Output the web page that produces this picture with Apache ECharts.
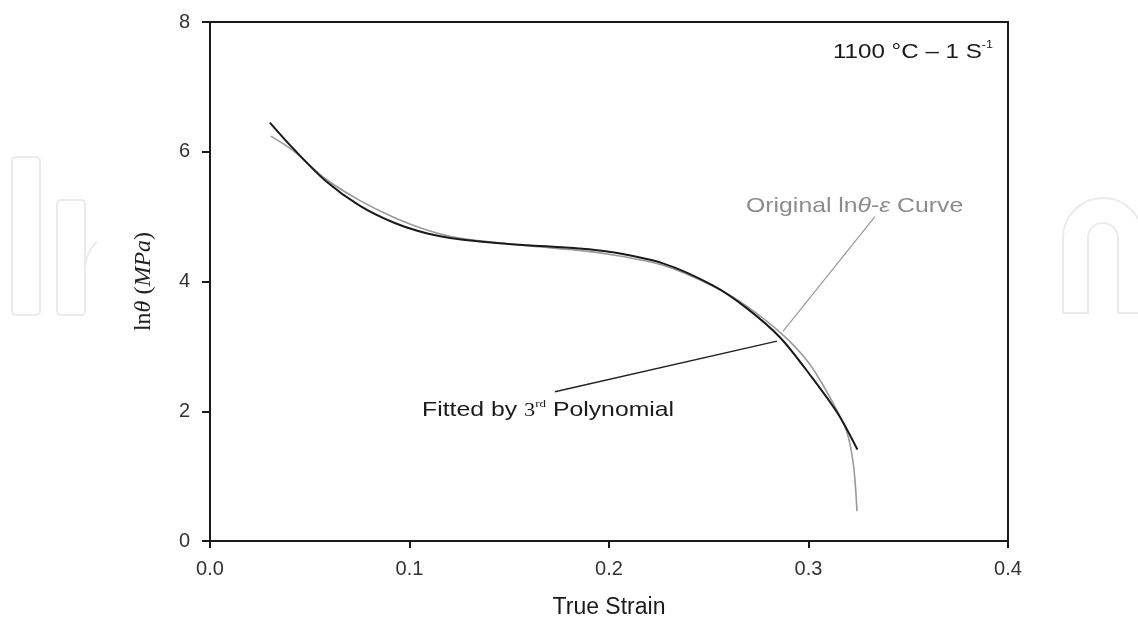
<!DOCTYPE html>
<html>
<head>
<meta charset="utf-8">
<script src="https://cdn.jsdelivr.net/npm/echarts@6/dist/echarts.min.js"></script>
<style>
  html, body { margin: 0; padding: 0; background: #fff; }
  #chart { width: 1138px; height: 624px; }
</style>
</head>
<body>
<div id="chart"></div>
<script>
// black curve: fitted by 3rd polynomial
var fittedStrain = [0.030, 0.042, 0.058, 0.075, 0.092, 0.109, 0.125, 0.145, 0.159, 0.185, 0.200, 0.227, 0.252, 0.269, 0.286, 0.302, 0.315, 0.3245];
var fittedLnTheta = [6.45, 6.04, 5.55, 5.17, 4.91, 4.74, 4.65, 4.59, 4.56, 4.51, 4.46, 4.28, 3.94, 3.59, 3.13, 2.51, 1.95, 1.41];
// grey curve: original ln(theta)-strain
var originalStrain = [0.0305, 0.042, 0.058, 0.075, 0.092, 0.109, 0.125, 0.159, 0.185, 0.200, 0.227, 0.252, 0.269, 0.287, 0.300, 0.311, 0.319, 0.3225, 0.3243];
var originalLnTheta = [6.24, 6.01, 5.58, 5.25, 4.99, 4.79, 4.67, 4.55, 4.48, 4.42, 4.25, 3.93, 3.62, 3.18, 2.75, 2.20, 1.70, 1.18, 0.46];

var xTicks = [0, 0.1, 0.2, 0.3, 0.4];
var yTicks = [0, 2, 4, 6, 8];

// annotation leader lines, in data units
var fittedPointer = [[0.1729, 2.30], [0.2842, 3.08]];
var originalPointer = [[0.3333, 5.00], [0.2872, 3.23]];
// annotation anchors, in data units
var fittedLabelAt = [0.1063, 2.01];
var originalLabelAt = [0.2687, 5.16];
var conditionLabelAt = [0.3925, 7.54];

function zip(xs, ys) {
  var out = [];
  for (var i = 0; i < xs.length; i++) out.push([xs[i], ys[i]]);
  return out;
}

var chart = echarts.init(document.getElementById('chart'));
var sans = 'Liberation Sans, Arial, sans-serif';
var serif = 'Liberation Serif, Times New Roman, serif';

var option = {
  animation: false,
  backgroundColor: '#fff',
  grid: {
    left: 210, right: 130, top: 22, bottom: 80,
    show: true, borderColor: '#1a1a1a', borderWidth: 2
  },
  xAxis: {
    type: 'value',
    min: xTicks[0], max: xTicks[xTicks.length - 1], interval: 0.1,
    name: 'True Strain',
    nameLocation: 'middle',
    nameGap: 55,
    nameTextStyle: { fontFamily: sans, fontSize: 23, color: '#1a1a1a' },
    axisLine: { lineStyle: { color: '#1a1a1a', width: 2 } },
    axisTick: { show: true, length: 7, lineStyle: { color: '#1a1a1a', width: 2 } },
    axisLabel: {
      margin: 18, fontFamily: sans, fontSize: 20, color: '#333',
      formatter: function (v) { return v.toFixed(1); }
    },
    splitLine: { show: false }
  },
  yAxis: {
    type: 'value',
    min: yTicks[0], max: yTicks[yTicks.length - 1], interval: 2,
    name: '{r|ln}{i|θ} {r|(}{i|MPa}{r|)}',
    nameLocation: 'middle',
    nameGap: 54,
    nameTextStyle: {
      fontFamily: serif, fontSize: 24, color: '#222',
      rich: {
        r: { fontFamily: serif, fontSize: 24, color: '#222' },
        i: { fontFamily: serif, fontSize: 24, color: '#222', fontStyle: 'italic' }
      }
    },
    axisLine: { lineStyle: { color: '#1a1a1a', width: 2 } },
    axisTick: { show: true, length: 8, lineStyle: { color: '#1a1a1a', width: 2 } },
    axisLabel: { margin: 20, fontFamily: sans, fontSize: 20, color: '#333' },
    splitLine: { show: false }
  },
  series: [
    {
      name: 'Original',
      type: 'line',
      data: zip(originalStrain, originalLnTheta),
      showSymbol: false,
      smooth: 0.3,
      lineStyle: { color: '#9a9a9a', width: 1.6 },
      z: 2
    },
    {
      name: 'Fitted',
      type: 'line',
      data: zip(fittedStrain, fittedLnTheta),
      showSymbol: false,
      smooth: 0.3,
      lineStyle: { color: '#1a1a1a', width: 2 },
      z: 3
    },
    {
      name: 'fittedPointer',
      type: 'line',
      data: fittedPointer,
      showSymbol: false,
      lineStyle: { color: '#222', width: 1.4 },
      z: 4
    },
    {
      name: 'originalPointer',
      type: 'line',
      data: originalPointer,
      showSymbol: false,
      lineStyle: { color: '#9a9a9a', width: 1.2 },
      z: 4
    }
  ]
};
chart.setOption(option);

function px(p) { return chart.convertToPixel({ gridIndex: 0 }, p); }
var pf = px(fittedLabelAt), po = px(originalLabelAt), pc = px(conditionLabelAt);
var mark = { fill: 'none', stroke: '#ebebeb', lineWidth: 2 };

chart.setOption({
  graphic: [
    // faint publisher watermark outside the plot
    { type: 'rect', silent: true, z: -10, shape: { x: 12, y: 157, width: 28, height: 158, r: 4 }, style: mark },
    { type: 'rect', silent: true, z: -10, shape: { x: 57, y: 200, width: 28, height: 115, r: 4 }, style: mark },
    { type: 'arc', silent: true, z: -10, shape: { cx: 125, cy: 270, r: 40, startAngle: Math.PI, endAngle: Math.PI * 1.25 }, style: mark },
    { type: 'arc', silent: true, z: -10, shape: { cx: 1103, cy: 238, r: 40, startAngle: Math.PI, endAngle: Math.PI * 2, clockwise: true }, style: mark },
    { type: 'arc', silent: true, z: -10, shape: { cx: 1103, cy: 238, r: 15, startAngle: Math.PI, endAngle: Math.PI * 2, clockwise: true }, style: mark },
    { type: 'polyline', silent: true, z: -10, shape: { points: [[1063, 238], [1063, 313], [1088, 313], [1088, 238]] }, style: mark },
    { type: 'polyline', silent: true, z: -10, shape: { points: [[1118, 238], [1118, 313], [1143, 313]] }, style: mark },
    // annotations
    { type: 'text', x: pc[0], y: pc[1], scaleX: 1.15, z: 10,
      style: {
        text: '{a|1100 °C – 1 S}{s|-1}', align: 'right', verticalAlign: 'middle',
        rich: {
          a: { fontFamily: sans, fontSize: 21, fill: '#1a1a1a' },
          s: { fontFamily: sans, fontSize: 11, fill: '#1a1a1a', padding: [0, 0, 14, 0] }
        }
      } },
    { type: 'text', x: po[0], y: po[1], scaleX: 1.18, z: 10,
      style: {
        text: '{a|Original ln}{i|θ}{a|-}{i|ε}{a| Curve}', align: 'left', verticalAlign: 'middle',
        rich: {
          a: { fontFamily: sans, fontSize: 21, fill: '#8c8c8c' },
          i: { fontFamily: sans, fontSize: 21, fill: '#8c8c8c', fontStyle: 'italic' }
        }
      } },
    { type: 'text', x: pf[0], y: pf[1], scaleX: 1.18, z: 10,
      style: {
        text: '{a|Fitted by }{t|3}{s|rd}{a| Polynomial}', align: 'left', verticalAlign: 'middle',
        rich: {
          a: { fontFamily: sans, fontSize: 21, fill: '#1a1a1a' },
          t: { fontFamily: serif, fontSize: 19, fill: '#1a1a1a' },
          s: { fontFamily: serif, fontSize: 11, fill: '#1a1a1a', padding: [0, 0, 12, 0] }
        }
      } }
  ]
});
</script>
</body>
</html>
